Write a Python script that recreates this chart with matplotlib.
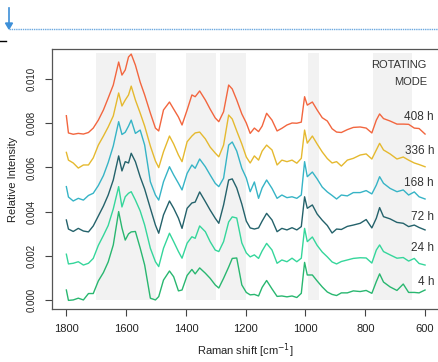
import numpy as np
import matplotlib
matplotlib.use("Agg")
import matplotlib.pyplot as plt
from matplotlib.lines import Line2D
from matplotlib.patches import Polygon

plt.rcParams['font.family'] = ['Liberation Sans', 'DejaVu Sans']

W, H = 438, 362

# Raman shift grid (cm-1), shared by all spectra
wavenumber = [1800, 1793, 1777, 1760, 1743, 1726, 1710, 1693, 1676, 1660,
              1643, 1625, 1614, 1603, 1592, 1583, 1569, 1553, 1538, 1519,
              1502, 1491, 1475, 1455, 1441, 1425, 1413, 1396, 1380, 1369,
              1354, 1335, 1319, 1302, 1290, 1274, 1257, 1245, 1230, 1213,
              1198, 1185, 1171, 1157, 1145, 1130, 1112, 1095, 1079, 1062,
              1045, 1029, 1014, 1003, 994, 977, 961, 944, 927, 911,
              896, 880, 860, 840, 817, 797, 778, 763, 752, 739,
              717, 694, 673, 655, 636, 620, 600]

# relative intensity, in units of 1e-3 (spectra already offset as drawn)
i_408h = [8.34, 7.56, 7.50, 7.54, 7.51, 7.58, 7.78, 8.14, 8.60, 9.14,
          9.73, 10.77, 10.18, 10.41, 11.00, 11.13, 10.63, 9.86, 9.28, 8.46,
          7.78, 7.65, 8.60, 8.96, 8.64, 8.28, 7.92, 8.60, 9.28, 9.20,
          9.46, 9.05, 8.64, 8.24, 8.07, 8.52, 9.73, 9.55, 9.05, 8.42,
          8.01, 7.54, 7.78, 7.62, 7.87, 8.45, 8.14, 7.65, 7.77, 7.92,
          8.01, 8.00, 8.05, 9.20, 8.82, 8.96, 8.60, 8.25, 8.10, 7.75,
          7.60, 7.58, 7.71, 7.81, 7.83, 7.78, 7.56, 8.14, 8.42, 8.21,
          8.10, 7.96, 7.96, 7.95, 7.78, 7.76, 7.51]
i_336h = [6.68, 6.33, 6.20, 5.97, 6.11, 6.11, 6.43, 7.01, 7.42, 7.83,
          8.33, 9.37, 8.78, 9.05, 9.28, 9.68, 9.05, 8.46, 7.87, 6.97,
          6.29, 5.99, 6.71, 7.42, 7.06, 6.56, 6.26, 7.16, 7.42, 7.56,
          7.60, 7.29, 6.92, 6.65, 6.48, 7.01, 8.37, 8.19, 7.65, 7.06,
          6.47, 6.20, 6.52, 6.33, 6.74, 7.01, 6.79, 6.11, 6.33, 6.26,
          6.33, 6.19, 6.41, 7.69, 7.10, 7.42, 7.06, 6.70, 6.40, 6.20,
          6.26, 6.06, 6.33, 6.41, 6.56, 6.61, 6.38, 6.79, 7.09, 6.79,
          6.61, 6.38, 6.47, 6.33, 6.20, 6.13, 6.03]
i_168h = [5.13, 4.66, 4.48, 4.60, 4.52, 4.73, 4.83, 5.18, 5.63, 6.22,
          6.97, 8.07, 7.49, 7.59, 7.87, 8.14, 7.54, 7.69, 7.01, 5.35,
          4.75, 4.52, 5.35, 6.03, 5.66, 5.28, 4.98, 5.73, 6.11, 5.96,
          6.38, 6.03, 5.66, 5.28, 5.13, 5.51, 7.01, 7.15, 6.74, 5.96,
          5.52, 4.90, 5.34, 4.60, 5.07, 5.43, 5.05, 4.60, 4.75, 4.63,
          4.67, 4.60, 4.75, 6.26, 5.58, 5.79, 5.48, 5.11, 4.89, 4.73,
          4.57, 4.75, 4.71, 4.86, 4.86, 4.95, 4.80, 5.20, 5.58, 5.28,
          5.05, 4.90, 4.98, 4.75, 4.89, 4.67, 4.57]
i_72h = [3.62, 3.21, 3.10, 3.24, 3.12, 3.08, 3.35, 3.80, 4.25, 4.75,
         5.43, 6.52, 5.84, 6.26, 6.20, 6.64, 6.26, 5.57, 5.02, 4.15,
         3.39, 3.02, 3.85, 4.48, 4.15, 3.70, 3.24, 4.15, 4.39, 4.43,
         4.89, 4.45, 4.07, 3.70, 3.47, 4.30, 5.43, 5.48, 5.07, 4.34,
         3.57, 3.26, 3.21, 3.26, 3.57, 3.92, 3.62, 3.09, 3.24, 3.17,
         3.27, 3.17, 3.32, 4.67, 4.15, 4.30, 3.89, 3.61, 3.37, 3.03,
         3.21, 3.19, 3.33, 3.39, 3.47, 3.64, 3.26, 3.70, 4.18, 3.77,
         3.67, 3.51, 3.47, 3.32, 3.39, 3.28, 3.17]
i_24h = [2.07, 1.63, 1.66, 1.73, 1.58, 1.66, 1.88, 2.47, 2.92, 3.37,
         4.12, 5.13, 4.21, 4.67, 4.83, 4.90, 4.52, 4.03, 3.39, 2.34,
         1.73, 1.51, 2.34, 3.02, 2.64, 2.19, 1.89, 2.57, 2.86, 2.79,
         3.35, 3.09, 2.64, 2.26, 2.19, 2.64, 3.53, 3.76, 3.71, 2.58,
         2.13, 1.95, 2.04, 1.88, 2.22, 2.56, 2.26, 1.66, 1.81, 1.73,
         1.89, 1.73, 1.89, 3.24, 2.64, 2.85, 2.47, 2.17, 1.95, 1.72,
         1.63, 1.74, 1.81, 1.88, 1.91, 1.90, 1.67, 2.26, 2.49, 2.19,
         2.04, 1.89, 1.92, 1.76, 1.88, 1.65, 1.58]
i_4h = [0.45, -0.02, 0.00, 0.08, 0.00, 0.29, 0.29, 0.86, 1.24, 1.72,
        2.49, 4.00, 3.26, 2.71, 2.99, 3.08, 3.10, 2.35, 1.58, 0.08,
        0.00, 0.15, 0.90, 1.31, 1.05, 0.41, 0.45, 1.11, 1.38, 1.18,
        1.45, 1.21, 0.98, 0.68, 0.54, 0.98, 1.49, 1.88, 1.90, 0.68,
        0.34, 0.23, 0.25, 0.18, 0.57, 0.88, 0.50, 0.16, 0.18, 0.14,
        0.18, 0.11, 0.30, 1.70, 1.13, 1.13, 0.86, 0.59, 0.36, 0.25,
        0.20, 0.32, 0.32, 0.41, 0.38, 0.43, 0.30, 0.83, 1.18, 0.81,
        0.59, 0.43, 0.72, 0.34, 0.34, 0.32, 0.45]

series = [i_408h, i_336h, i_168h, i_72h, i_24h, i_4h]
labels = ["408 h", "336 h", "168 h", "72 h", "24 h", "4 h"]
colors = ["#f2663f", "#e5b92f", "#36b4c6", "#24626b", "#35d69b", "#29b770"]

# shaded regions (cm-1)
bands = [(1700, 1500), (1400, 1300), (1285, 1200), (990, 955), (775, 645)]

# layout of the right-hand labels (y in 1e-3 units)
label_y = [8.29, 6.74, 5.28, 3.77, 2.34, 0.83]

fig = plt.figure(figsize=(W / 100, H / 100), dpi=100)
ax = fig.add_axes([52 / W, 53 / H, 387.4 / W, 260 / H])

for lo, hi in bands:
    ax.fill_between([lo, hi], 0, 0.0112, color="#f2f2f2", lw=0, zorder=0)

x = np.array(wavenumber)
for vals, col in zip(series, colors):
    ax.plot(x, np.array(vals) * 1e-3, color=col, lw=1.0, zorder=2)

for lab, yy in zip(labels, label_y):
    ax.text(570, yy * 1e-3, lab, ha="right", va="center", fontsize=8.5,
            color="#333333")
ax.text(594, 10.63e-3, "ROTATING", ha="right", va="center", fontsize=8,
        color="#333333")
ax.text(594, 9.88e-3, "MODE", ha="right", va="center", fontsize=8,
        color="#333333")

ax.set_xlim(1848, 552)
ax.set_ylim(-0.00041, 0.01136)
ax.set_xticks([1800, 1600, 1400, 1200, 1000, 800, 600])
ax.set_yticks([0.0, 0.002, 0.004, 0.006, 0.008, 0.010])
ax.set_yticklabels(["0.000", "0.002", "0.004", "0.006", "0.008", "0.010"],
                   rotation=90, va="center")
ax.tick_params(axis="x", length=5, width=0.8, pad=6, labelsize=8,
               color="#444444", labelcolor="#222222")
ax.tick_params(axis="y", length=5, width=0.8, pad=6, labelsize=7,
               color="#444444", labelcolor="#222222")
for sp in ax.spines.values():
    sp.set_color("#555555")
    sp.set_linewidth(0.9)

ax.set_xlabel("Raman shift [cm$^{-1}$]", fontsize=8, labelpad=5,
              color="#222222")
ax.set_ylabel("Relative Intensity", fontsize=8, labelpad=6, color="#222222")

# screenshot furniture above the chart
def fx(p):
    return p / W


def fy(p):
    return 1 - p / H


blue = "#3d8fd8"
fig.add_artist(Line2D([fx(9), fx(9)], [fy(8), fy(24)], color=blue, lw=1.2,
                      transform=fig.transFigure))
fig.add_artist(Polygon([[fx(5.5), fy(23)], [fx(12.5), fy(23)], [fx(9), fy(29)]],
                       closed=True, color=blue, transform=fig.transFigure))
fig.add_artist(Line2D([fx(9), 1], [fy(28.7), fy(28.7)], color="#6aa8e0", lw=1.0,
                      ls=(0, (1, 0.6)), transform=fig.transFigure))
fig.add_artist(Line2D([0, fx(6)], [fy(41), fy(41)], color="black", lw=1.0,
                      transform=fig.transFigure))

fig.savefig("out.png", dpi=100)
